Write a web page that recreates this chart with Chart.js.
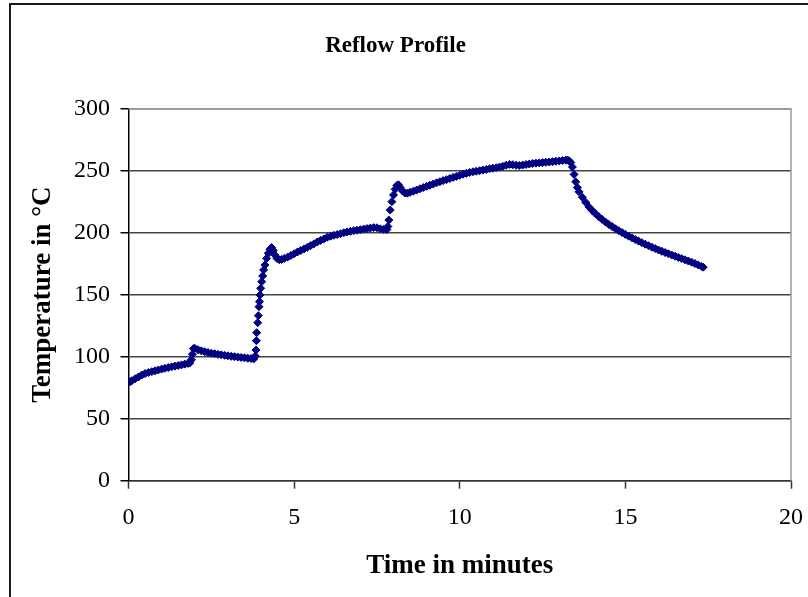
<!DOCTYPE html>
<html>
<head>
<meta charset="utf-8">
<title>Reflow Profile</title>
<script src="https://cdn.jsdelivr.net/npm/chart.js@4/dist/chart.umd.min.js"></script>
<style>
  html, body { margin: 0; padding: 0; background: #ffffff; }
  #wrap { width: 808px; height: 597px; position: relative; }
</style>
</head>
<body>
<div id="wrap"><canvas id="chart" width="808" height="597"></canvas></div>
<script>
// Oven log: elapsed time (minutes) and board temperature (°C)
const minutes = [
  0.05, 0.1, 0.2, 0.3, 0.4, 0.5, 0.6, 0.7, 0.8, 0.9,
  1.0, 1.1, 1.2, 1.3, 1.4, 1.5, 1.6, 1.7, 1.8, 1.85,
  1.9, 1.93, 1.96, 2.0, 2.1, 2.2, 2.3, 2.4, 2.5, 2.6,
  2.7, 2.8, 2.9, 3.0, 3.1, 3.2, 3.3, 3.4, 3.5, 3.6,
  3.7, 3.78, 3.83, 3.85, 3.86, 3.87, 3.9, 3.92, 3.94, 3.955,
  3.97, 3.99, 4.02, 4.05, 4.08, 4.12, 4.17, 4.22, 4.27, 4.32,
  4.37, 4.42, 4.48, 4.55, 4.62, 4.7, 4.8, 4.9, 5.0, 5.1,
  5.2, 5.3, 5.4, 5.5, 5.6, 5.7, 5.8, 5.9, 6.0, 6.1,
  6.2, 6.3, 6.4, 6.5, 6.6, 6.7, 6.8, 6.9, 7.0, 7.1,
  7.2, 7.3, 7.4, 7.5, 7.6, 7.7, 7.8, 7.83, 7.86, 7.9,
  7.95, 8.0, 8.05, 8.1, 8.15, 8.2, 8.28, 8.35, 8.42, 8.5,
  8.6, 8.7, 8.8, 8.9, 9.0, 9.1, 9.2, 9.3, 9.4, 9.5,
  9.6, 9.7, 9.8, 9.9, 10.0, 10.1, 10.2, 10.3, 10.4, 10.5,
  10.6, 10.7, 10.8, 10.9, 11.0, 11.1, 11.2, 11.3, 11.4, 11.5,
  11.6, 11.7, 11.8, 11.9, 12.0, 12.1, 12.2, 12.3, 12.4, 12.5,
  12.6, 12.7, 12.8, 12.9, 13.0, 13.1, 13.2, 13.25, 13.3, 13.35,
  13.4, 13.45, 13.5, 13.55, 13.6, 13.7, 13.8, 13.9, 14.0, 14.1,
  14.2, 14.3, 14.4, 14.5, 14.6, 14.7, 14.8, 14.9, 15.0, 15.1,
  15.2, 15.3, 15.4, 15.5, 15.6, 15.7, 15.8, 15.9, 16.0, 16.1,
  16.2, 16.3, 16.4, 16.5, 16.6, 16.7, 16.8, 16.9, 17.0, 17.1,
  17.2, 17.3, 17.35
];

const temperatures = [
  79.8, 80.6, 82.2, 83.6, 85.2, 86.4, 87.2, 87.9, 88.6, 89.3,
  90.0, 90.6, 91.2, 91.8, 92.4, 92.9, 93.4, 94.0, 94.5, 95.0,
  97.5, 102.0, 106.5, 106.8, 105.6, 104.7, 104.0, 103.3, 102.8, 102.4,
  101.9, 101.5, 101.1, 100.7, 100.3, 100.0, 99.7, 99.4, 99.1, 98.8,
  98.5, 98.2, 100.5, 105.4, 112.9, 119.4, 127.4, 133.1, 140.3, 144.4,
  149.8, 155.2, 160.5, 165.1, 170.0, 174.0, 179.3, 183.4, 186.6, 188.0,
  185.6, 182.0, 179.3, 178.2, 178.4, 179.2, 180.3, 181.6, 183.0, 184.4,
  185.6, 186.9, 188.2, 189.6, 191.0, 192.5, 193.8, 195.0, 196.3, 197.2,
  197.9, 198.5, 199.2, 200.0, 200.6, 201.1, 201.6, 202.0, 202.4, 202.9,
  203.3, 203.7, 204.1, 204.0, 203.1, 202.6, 202.5, 205.0, 210.2, 218.3,
  225.0, 230.4, 235.0, 238.0, 238.6, 236.5, 233.5, 232.0, 231.9, 232.6,
  233.5, 234.4, 235.4, 236.4, 237.4, 238.3, 239.2, 240.2, 241.1, 242.0,
  242.8, 243.7, 244.6, 245.4, 246.3, 247.2, 247.9, 248.6, 249.1, 249.6,
  250.0, 250.5, 251.0, 251.5, 252.0, 252.4, 252.9, 253.5, 254.4, 255.0,
  254.8, 254.4, 254.2, 254.5, 255.0, 255.4, 255.8, 256.1, 256.3, 256.5,
  256.8, 257.0, 257.3, 257.6, 257.9, 258.2, 258.5, 258.6, 258.0, 256.6,
  253.0, 247.0, 241.0, 236.4, 233.0, 228.6, 224.6, 220.8, 217.9, 215.2,
  212.8, 210.7, 208.6, 206.7, 204.9, 203.2, 201.6, 200.1, 198.6, 197.2,
  195.8, 194.5, 193.2, 191.9, 190.7, 189.5, 188.3, 187.2, 186.1, 185.0,
  184.0, 183.0, 182.0, 181.0, 180.0, 179.1, 178.1, 177.2, 176.2, 175.1,
  174.0, 172.8, 172.2
];

const xTicks = [0, 5, 10, 15, 20];
const yTicks = [0, 50, 100, 150, 200, 250, 300];

const SERIF = '"Liberation Serif", "Times New Roman", Times, serif';
const NAVY = '#000080';

// Thin frame along the left and top edges of the chart, plus the plot-area outline
const framePlugin = {
  id: 'frame',
  beforeDraw(chart) {
    const ctx = chart.ctx;
    ctx.save();
    ctx.fillStyle = '#ffffff';
    ctx.fillRect(0, 0, chart.width, chart.height);
    ctx.strokeStyle = '#1a1a1a';
    ctx.lineWidth = 2;
    ctx.beginPath();
    ctx.moveTo(10, chart.height);
    ctx.lineTo(10, 4);
    ctx.lineTo(chart.width, 4);
    ctx.stroke();
    ctx.restore();
  },
  beforeDatasetsDraw(chart) {
    const {left, right, top, bottom} = chart.chartArea;
    const ctx = chart.ctx;
    ctx.save();
    ctx.strokeStyle = '#9a9a9a';
    ctx.lineWidth = 1.5;
    ctx.beginPath();
    ctx.moveTo(left, top);
    ctx.lineTo(right, top);
    ctx.lineTo(right, bottom);
    ctx.stroke();
    ctx.restore();
  }
};

new Chart(document.getElementById('chart'), {
  type: 'scatter',
  data: {
    datasets: [{
      label: 'Temperature',
      data: minutes.map((t, i) => ({x: t, y: temperatures[i]})),
      pointStyle: 'rectRot',
      pointRadius: 4,
      pointBorderWidth: 1,
      backgroundColor: NAVY,
      borderColor: NAVY,
      showLine: false
    }]
  },
  options: {
    responsive: false,
    devicePixelRatio: 1,
    animation: false,
    layout: { padding: { left: 0, right: 17, top: 0, bottom: 0 } },
    plugins: {
      legend: { display: false },
      tooltip: { enabled: false },
      title: {
        display: true,
        text: 'Reflow Profile',
        color: '#000000',
        font: { family: SERIF, size: 23, weight: 'bold' },
        padding: { top: 32, bottom: 49.1 }
      }
    },
    scales: {
      x: {
        type: 'linear',
        min: 0,
        max: 20,
        afterFit(scale) {
          scale.height = 116.3;
          scale.paddingLeft = 0;
          scale.paddingRight = 0;
        },
        afterBuildTicks(scale) { scale.ticks = xTicks.map(v => ({value: v})); },
        border: { display: true, color: '#333333', width: 1.5 },
        grid: { display: true, drawOnChartArea: false, drawTicks: true, tickLength: 8, tickColor: '#333333', tickWidth: 1.5 },
        ticks: {
          color: '#000000',
          padding: 15,
          maxRotation: 0,
          font: { family: SERIF, size: 24 }
        },
        title: {
          display: true,
          text: 'Time in minutes',
          color: '#000000',
          font: { family: SERIF, size: 27, weight: 'bold' },
          padding: { top: 0, bottom: 15 }
        }
      },
      y: {
        type: 'linear',
        min: 0,
        max: 300,
        afterFit(scale) { scale.width = 128.5; },
        afterBuildTicks(scale) { scale.ticks = yTicks.map(v => ({value: v})); },
        border: { display: true, color: '#000000', width: 1.5 },
        grid: { display: true, drawOnChartArea: true, drawTicks: true, tickLength: 8, color: '#444444', lineWidth: 1.5, tickColor: '#000000', tickWidth: 1.5 },
        ticks: {
          color: '#000000',
          padding: 10.5,
          font: { family: SERIF, size: 24 }
        },
        title: {
          display: true,
          text: 'Temperature in °C',
          color: '#000000',
          font: { family: SERIF, size: 27, weight: 'bold' },
          padding: { top: 27, bottom: 0 }
        }
      }
    }
  },
  plugins: [framePlugin]
});
</script>
</body>
</html>
